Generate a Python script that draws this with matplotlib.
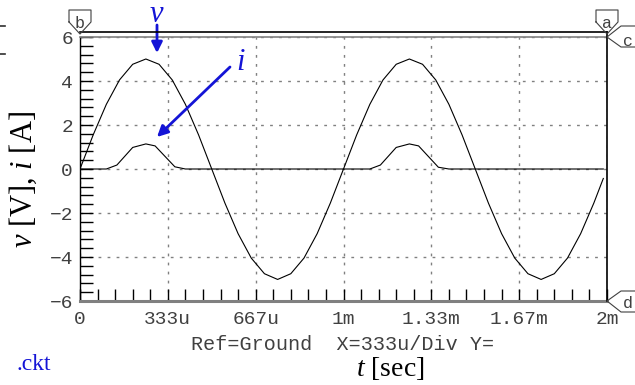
import matplotlib
matplotlib.use('Agg')
import matplotlib.pyplot as plt
from matplotlib.lines import Line2D

# waveform samples (time in microseconds)
t_v = [0, 50, 100, 150, 200, 250, 300, 350, 400, 450,
       500, 550, 600, 650, 700, 750, 800, 850, 900, 950,
       1000, 1050, 1100, 1150, 1200, 1250, 1300, 1350, 1400, 1450,
       1500, 1550, 1600, 1650, 1700, 1750, 1800, 1850, 1900, 1950, 1986]
v = [0.0, 1.55, 2.94, 4.05, 4.76, 5.0, 4.76, 4.05, 2.94, 1.55,
     0.0, -1.55, -2.94, -4.05, -4.76, -5.02, -4.76, -4.05, -2.94, -1.55,
     0.0, 1.55, 2.94, 4.05, 4.76, 5.0, 4.76, 4.05, 2.94, 1.55,
     0.0, -1.55, -2.94, -4.05, -4.76, -5.02, -4.76, -4.05, -2.94, -1.55, -0.43]

t_i = [0, 100, 140, 200, 250, 285, 360, 400,
       1100, 1140, 1200, 1250, 1285, 1360, 1400, 1986]
i = [0.0, 0.0, 0.18, 0.98, 1.14, 1.05, 0.1, 0.0,
     0.0, 0.18, 0.98, 1.14, 1.05, 0.08, 0.0, 0.0]

x_ticks = [0, 333.33, 666.67, 1000, 1333.33, 1666.67, 2000]
x_labels = ['0', '333u', '667u', '1m', '1.33m', '1.67m', '2m']
y_ticks = [-6, -4, -2, 0, 2, 4, 6]

W, H = 635, 385
BLUE = '#1414d6'
GRAY = '#808080'
TXT = '#404040'

plt.rcParams['mathtext.fontset'] = 'custom'
plt.rcParams['mathtext.rm'] = 'Liberation Serif'
plt.rcParams['mathtext.it'] = 'Liberation Serif:italic'


def P(x, y):
    return (x / W, 1 - y / H)


fig = plt.figure(figsize=(6.35, 3.85), dpi=100)
ax = fig.add_axes([80 / W, 1 - 301 / H, (607 - 80) / W, (301 - 37) / H])

ax.plot(t_v, v, color='black', lw=0.8, zorder=3)
ax.plot(t_i, i, color='black', lw=0.8, zorder=3)

ax.set_xlim(0, 2000)
ax.set_ylim(-6, 6)
ax.set_xticks(x_ticks)
ax.set_xticklabels(x_labels)
ax.set_xticks([k * 2000 / 30 for k in range(31)], minor=True)
ax.set_yticks(y_ticks)
ax.set_yticks([-6 + 0.4 * k for k in range(31)], minor=True)
ax.tick_params(which='both', direction='in', length=9, width=1, color='black')
ax.tick_params(axis='x', which='major', pad=7, labelsize=14, labelcolor=TXT)
ax.tick_params(axis='y', which='major', pad=5, labelsize=14, labelcolor=TXT)
for lab in ax.get_xticklabels() + ax.get_yticklabels():
    lab.set_family('Liberation Mono')

ax.grid(True, which='major', color=GRAY, lw=1.0, linestyle=(0, (2, 4.5)))

ax.spines['left'].set_color('black')
ax.spines['left'].set_linewidth(1)
ax.spines['bottom'].set_color(GRAY)
ax.spines['bottom'].set_linewidth(2.2)
ax.spines['top'].set_color(GRAY)
ax.spines['top'].set_linewidth(1.2)
ax.spines['right'].set_visible(False)


def fig_line(xs, ys, color='black', lw=1.0):
    pts = [P(x, y) for x, y in zip(xs, ys)]
    fig.add_artist(Line2D([p[0] for p in pts], [p[1] for p in pts],
                          color=color, lw=lw, transform=fig.transFigure))


# outer frame lines
fig_line([80, 607], [32, 32], lw=1.2)
fig_line([607, 607], [32, 301], lw=1.2)
fig_line([0, 5], [26, 26], color='#303030', lw=1.2)
fig_line([0, 5], [54, 54], color='#303030', lw=1.2)

# cursor markers
fig_line([69, 69, 91, 91, 80, 69], [22, 10, 10, 22, 34, 22], color='#404040', lw=0.8)
fig_line([596, 596, 618, 618, 607, 596], [22, 10, 10, 22, 34, 22], color='#404040', lw=0.8)
fig_line([635, 621, 607, 621, 635], [26, 26, 37, 47, 47], color='#404040', lw=0.8)
fig_line([635, 621, 607, 621, 635], [291, 291, 301, 312, 312], color='#404040', lw=0.8)
for ch, (x, y) in zip('bacd', [(80, 24), (607, 24), (628, 41), (628, 304)]):
    fig.text(*P(x, y), ch, family='Liberation Mono', fontsize=12,
             color=TXT, ha='center', va='center')

# axis captions
fig.text(*P(23, 180), r'$v$ [V], $i$ [A]', family='Liberation Serif',
         fontsize=22, rotation=90, ha='center', va='center')
fig.text(*P(390, 369), r'$t$ [sec]', family='Liberation Serif',
         fontsize=20, ha='center', va='center')
fig.text(*P(191, 344), 'Ref=Ground  X=333u/Div Y=', family='Liberation Mono',
         fontsize=14.5, color=TXT, ha='left', va='center')
fig.text(*P(17, 365), '.ckt', family='Liberation Serif', fontsize=17,
         color=BLUE, ha='left', va='center')

# annotations
arrow = dict(arrowstyle='-|>', color=BLUE, lw=2, mutation_scale=16,
             shrinkA=0, shrinkB=0)
ax.annotate('', xy=P(157, 53), xytext=P(157, 25), xycoords='figure fraction',
            textcoords='figure fraction', arrowprops=arrow)
ax.annotate('', xy=P(157, 137), xytext=P(230, 67), xycoords='figure fraction',
            textcoords='figure fraction', arrowprops=arrow)
fig.text(*P(157, 13), r'$v$', fontsize=22, color=BLUE, ha='center', va='center')
fig.text(*P(241, 61), r'$i$', fontsize=22, color=BLUE, ha='center', va='center')

fig.savefig('out.png', dpi=100)
